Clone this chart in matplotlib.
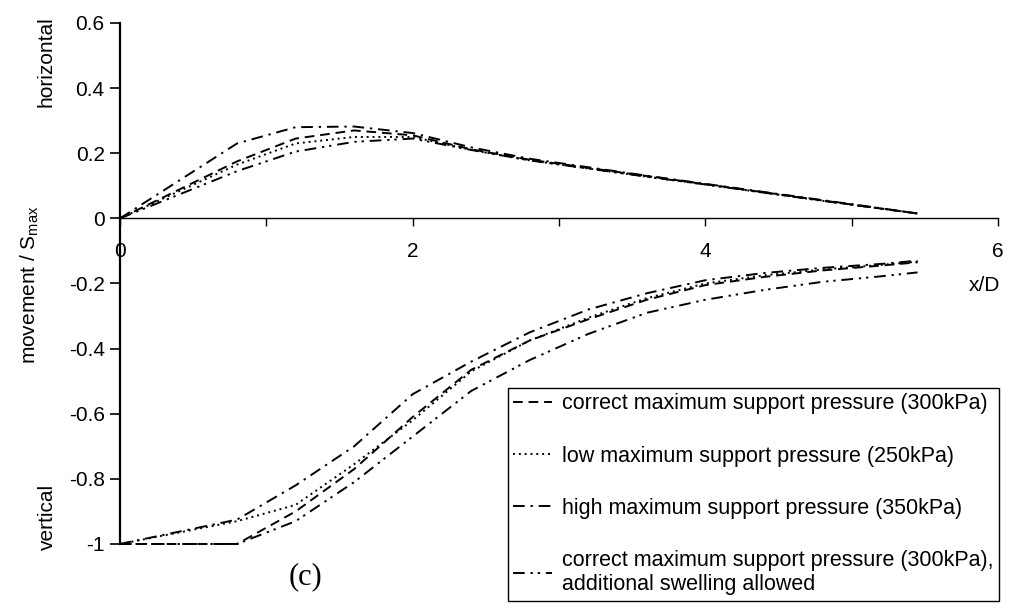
import matplotlib
matplotlib.use("Agg")
import matplotlib.pyplot as plt
import numpy as np

plt.rcParams['font.family'] = ['Liberation Sans', 'DejaVu Sans']
plt.rcParams['axes.unicode_minus'] = False
plt.rcParams['mathtext.fontset'] = 'custom'
plt.rcParams['mathtext.rm'] = 'Liberation Sans'

# ---- data (x/D and normalised movement) ----
x = [0, 0.8, 1.2, 1.6, 2.0, 2.4, 2.8, 3.2, 3.6, 4.0, 4.4, 4.8, 5.2, 5.45]

h_correct = [0, 0.175, 0.245, 0.27, 0.255, 0.212, 0.18, 0.155, 0.13, 0.105, 0.08, 0.055, 0.03, 0.015]
h_low     = [0, 0.165, 0.23, 0.25, 0.25, 0.21, 0.178, 0.153, 0.128, 0.104, 0.079, 0.054, 0.03, 0.015]
h_high    = [0, 0.23, 0.28, 0.282, 0.262, 0.218, 0.183, 0.157, 0.131, 0.106, 0.081, 0.056, 0.031, 0.015]
h_swell   = [0, 0.145, 0.205, 0.235, 0.245, 0.21, 0.178, 0.153, 0.128, 0.104, 0.079, 0.054, 0.03, 0.015]

v_correct = [-1, -1.0, -0.9, -0.77, -0.61, -0.465, -0.375, -0.31, -0.25, -0.205, -0.18, -0.16, -0.145, -0.135]
v_low     = [-1, -0.93, -0.88, -0.755, -0.62, -0.47, -0.375, -0.305, -0.245, -0.2, -0.175, -0.157, -0.143, -0.133]
v_high    = [-1, -0.925, -0.82, -0.70, -0.54, -0.44, -0.35, -0.28, -0.23, -0.19, -0.168, -0.152, -0.14, -0.13]
v_swell   = [-1, -1.0, -0.93, -0.81, -0.67, -0.53, -0.435, -0.355, -0.29, -0.25, -0.22, -0.195, -0.178, -0.166]

labels = [
    "correct maximum support pressure (300kPa)",
    "low maximum support pressure (250kPa)",
    "high maximum support pressure (350kPa)",
    "correct maximum support pressure (300kPa),\nadditional swelling allowed",
]

x_major = [0, 2, 4, 6]
x_minor = [1, 3, 5]
y_ticks = [-1, -0.8, -0.6, -0.4, -0.2, 0, 0.2, 0.4, 0.6]
y_ticklabels = ['-1', '-0.8', '-0.6', '-0.4', '-0.2', '0', '0.2', '0.4', '0.6']

styles = [(0, (5, 3)), (0, (1, 2)), (0, (6, 3, 1.2, 3)), (0, (6, 3, 1.2, 2.5, 1.2, 3))]
series = [(h_correct, v_correct), (h_low, v_low), (h_high, v_high), (h_swell, v_swell)]

fig = plt.figure(figsize=(10.31, 6.16), dpi=100)
ax = fig.add_axes([0.1164, 0.1169, 0.8516, 0.8458])

handles = []
for (hv, vv), ls, lab in zip(series, styles, labels):
    ln, = ax.plot(x, hv, color='black', lw=1.4, linestyle=ls, clip_on=False, label=lab)
    ax.plot(x, vv, color='black', lw=1.4, linestyle=ls, clip_on=False)
    handles.append(ln)

ax.set_xlim(0, 6)
ax.set_ylim(-1, 0.6)
for s in ['top', 'right']:
    ax.spines[s].set_visible(False)
ax.spines['bottom'].set_position(('data', 0))
ax.spines['bottom'].set_linewidth(1.0)
ax.spines['left'].set_linewidth(1.6)

ax.set_xticks(x_major)
ax.set_xticklabels([str(v) for v in x_major])
ax.set_xticks(x_minor, minor=True)
ax.tick_params(axis='x', which='both', direction='out', length=6, width=1.0,
               labelsize=15, pad=11)
ax.set_yticks(y_ticks)
ax.set_yticklabels(y_ticklabels)
ax.tick_params(axis='y', which='both', direction='out', length=7, width=1.2,
               labelsize=15, pad=4)

ax.text(5.91, -0.205, 'x/D', ha='center', va='center', fontsize=15)

fig.text(30 / 1031, 1 - 285 / 616, r'movement / S$_{\mathrm{max}}$', rotation=90,
         ha='center', va='center', fontsize=15)
fig.text(46 / 1031, 1 - 62 / 616, 'horizontal', rotation=90, ha='center', va='center', fontsize=15)
fig.text(47 / 1031, 1 - 517 / 616, 'vertical', rotation=90, ha='center', va='center', fontsize=15)
fig.text(305 / 1031, 1 - 577 / 616, '(c)', ha='center', va='center', fontsize=22,
         family='Liberation Serif')

leg = ax.legend(handles=handles, loc='upper left', bbox_to_anchor=(508 / 1031, 1 - 388 / 616),
                bbox_transform=fig.transFigure, fontsize=15.5, frameon=True, fancybox=False,
                framealpha=1, edgecolor='black', handlelength=1.8, handletextpad=0.45,
                labelspacing=1.45, borderpad=0.25, borderaxespad=0)
leg.get_frame().set_linewidth(1.0)

fig.savefig('out.png', dpi=100)
